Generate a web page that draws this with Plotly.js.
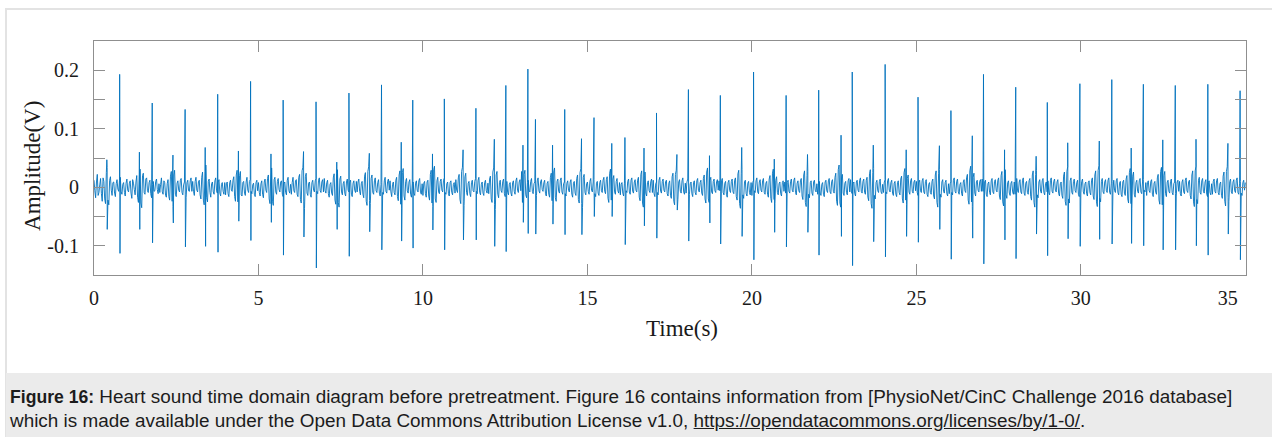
<!DOCTYPE html>
<html>
<head>
<meta charset="utf-8">
<script src="https://cdn.plot.ly/plotly-3.0.1.min.js"></script>
<style>
html,body{margin:0;padding:0;background:#fff;width:1272px;height:437px;overflow:hidden;}
#frame{position:absolute;left:5px;top:8px;width:1290px;height:440px;border-top:2px solid #e3e3e3;border-left:2px solid #e3e3e3;}
#chart{position:absolute;left:0;top:0;width:1272px;height:372px;}
#cap{position:absolute;left:6px;top:373px;width:1266px;height:64px;background:#ebebeb;font-family:"Liberation Sans",Arial,Helvetica,sans-serif;font-size:18.9px;color:#1c1c1c;line-height:24px;padding:12px 0 0 4px;box-sizing:border-box;white-space:nowrap;}
#cap b{font-size:17.6px;}
#cap a{color:#1c1c1c;text-decoration:underline;}
</style>
</head>
<body>
<div id="frame"></div>
<div id="chart"></div>
<div id="cap"><b>Figure 16:</b> Heart sound time domain diagram before pretreatment. Figure 16 contains information from [PhysioNet/CinC Challenge 2016 database]<br>which is made available under the Open Data Commons Attribution License v1.0, <a>https://opendatacommons.org/licenses/by/1-0/</a>.</div>
<script>
// Large (sharp) heart-sound spikes: time (s), positive peak (V), negative peak (V)
const s1Time = [0.78,1.77,2.77,3.76,4.76,5.75,6.75,7.75,8.74,9.69,10.65,11.61,12.52,13.19,13.42,14.31,15.20,16.14,17.10,18.07,19.04,20.05,21.04,22.03,23.05,24.05,25.05,26.05,27.04,28.02,28.98,29.97,30.94,31.90,32.87,33.86,34.84];
const s1Up   = [0.193,0.144,0.133,0.159,0.181,0.149,0.146,0.161,0.175,0.149,0.151,0.135,0.174,0.202,0.116,0.133,0.119,0.085,0.127,0.167,0.157,0.197,0.157,0.166,0.197,0.210,0.154,0.131,0.193,0.171,0.145,0.177,0.184,0.176,0.174,0.176,0.165];
const s1Down = [-0.113,-0.095,-0.102,-0.111,-0.091,-0.116,-0.138,-0.118,-0.107,-0.104,-0.107,-0.090,-0.110,-0.079,-0.080,-0.081,-0.050,-0.098,-0.087,-0.092,-0.097,-0.124,-0.102,-0.116,-0.134,-0.119,-0.094,-0.123,-0.131,-0.122,-0.117,-0.101,-0.097,-0.100,-0.107,-0.116,-0.124];

// Medium heart-sound bursts: time (s), positive peak (V), negative peak (V)
const s2Time = [0.39,1.38,2.40,3.38,4.39,5.38,6.37,7.38,8.37,9.34,10.29,11.22,12.17,13.04,13.94,14.82,15.74,16.72,17.72,18.71,19.69,20.68,21.69,22.71,23.69,24.69,25.70,26.70,27.68,28.64,29.60,30.56,31.53,32.49,33.50,34.47];
const s2Up   = [0.047,0.060,0.055,0.068,0.062,0.057,0.061,0.043,0.058,0.077,0.057,0.064,0.082,0.072,0.072,0.083,0.075,0.067,0.056,0.054,0.068,0.048,0.056,0.089,0.072,0.064,0.071,0.088,0.064,0.053,0.076,0.079,0.067,0.081,0.082,0.075];
const s2Down = [-0.072,-0.072,-0.061,-0.101,-0.058,-0.060,-0.085,-0.072,-0.076,-0.092,-0.073,-0.090,-0.101,-0.060,-0.063,-0.081,-0.050,-0.066,-0.039,-0.061,-0.084,-0.077,-0.077,-0.084,-0.093,-0.084,-0.072,-0.087,-0.090,-0.080,-0.088,-0.089,-0.096,-0.107,-0.100,-0.080];

// Background noise, in millivolts, one value every 0.05 s (one row per second)
const noiseStep = 0.05;
const noiseMv = [
 12,-18,22,-9,15,-24,10,-28,34,-30,18,-14,9,-16,13,-7,17,-12,8,-15,
 14,-8,11,-19,7,-13,20,-26,31,-35,24,-12,16,-9,12,-18,10,-6,14,-11,
 -9,16,-12,8,-17,13,-22,27,-33,29,-16,11,-8,15,-13,9,-18,12,-7,16,
 10,-14,17,-8,12,-20,26,-30,38,-25,14,-17,9,-12,16,-10,13,-15,8,-12,
 -13,9,-16,12,-7,18,-24,29,-32,27,-15,10,-14,17,-9,13,-11,7,-16,12,
 8,-15,11,-18,14,-9,21,-28,33,-31,17,-12,15,-8,11,-16,9,-13,17,-10,
 -12,17,-9,13,-16,22,-27,34,-36,24,-14,9,-17,12,-8,15,-11,16,-9,13,
 15,-10,12,-17,8,-14,23,-29,30,-34,19,-13,10,-15,14,-8,12,-16,11,-9,
 -8,14,-13,10,-18,25,-31,35,-28,21,-12,16,-9,13,-15,8,-12,17,-10,14,
 11,-16,9,-13,17,-23,28,-37,32,-22,15,-10,13,-17,9,-14,11,-8,15,-12,
 -14,10,-17,12,-22,29,-33,36,-26,17,-11,14,-8,16,-12,9,-15,11,-13,8,
 13,-9,22,-28,34,-31,24,-14,10,-16,12,-8,15,-11,17,-13,9,-14,12,-10,
 -11,19,-26,33,-38,27,-18,12,-9,14,-16,10,-13,8,-15,11,-12,16,-9,13,
 27,-34,29,-18,12,-8,15,-11,9,-14,16,-10,13,-7,12,-15,10,-17,24,-30,
 33,-24,14,-10,16,-12,9,-15,11,-8,13,-17,10,-14,21,-27,32,-35,22,-13,
 9,-12,15,-8,13,-16,10,-14,12,-9,17,-11,18,-26,31,-29,20,-12,15,-10,
 -13,8,-15,11,-9,14,-12,16,-10,13,-8,17,-23,28,-34,26,-15,11,-9,14,
 12,-16,9,-13,17,-10,14,-8,12,-15,11,-19,24,-30,29,-21,13,-10,16,-12,
 -10,14,-12,9,-16,11,-13,15,-8,12,-14,21,-27,33,-26,17,-11,14,-9,13,
 11,-8,15,-13,10,-17,12,-9,14,-11,16,-22,29,-36,30,-19,12,-15,10,-13,
 -14,12,-9,16,-11,13,-8,15,-12,10,-17,20,-26,31,-28,18,-13,9,-15,11,
 9,-15,12,-10,14,-8,16,-13,11,-9,15,-21,28,-33,27,-18,11,-14,12,-8,
 -12,10,-14,8,-16,12,-9,15,-11,13,-10,24,-31,38,-34,22,-14,10,-13,15,
 13,-11,9,-15,12,-8,16,-10,14,-12,17,-23,30,-36,32,-20,12,-9,14,-11,
 -9,13,-11,15,-8,12,-14,10,-16,11,-13,19,-27,32,-29,21,-12,15,-10,12,
 10,-14,12,-9,15,-11,13,-16,8,-12,14,-20,28,-34,30,-17,13,-10,12,-15,
 -11,9,-13,16,-10,14,-12,8,-15,13,-9,22,-29,36,-33,24,-15,12,-8,13,
 14,-10,12,-16,9,-13,15,-11,13,-8,16,-21,27,-32,30,-19,11,-14,10,-12,
 -12,15,-9,13,-11,16,-14,10,-12,15,-22,28,-34,29,-18,13,-10,15,-13,9,
 11,-13,16,-10,14,-8,13,-15,9,-19,26,-31,35,-27,16,-12,14,-9,12,-16,
 -10,14,-12,9,-15,11,-13,16,-21,28,-33,37,-25,15,-11,13,-9,16,-12,10,
 12,-9,15,-13,10,-16,12,-14,20,-27,32,-36,26,-17,12,-10,15,-11,13,-8,
 -14,11,-9,13,-16,10,-12,22,-29,34,-38,27,-16,12,-10,14,-13,9,-15,12,
 10,-15,13,-11,16,-9,12,-20,28,-33,36,-28,17,-12,15,-10,13,-16,11,-13,
 -12,14,-10,15,-13,9,-19,26,-32,35,-24,14,-11,13,-9,16,-12,10,-14,12,
 8
];
// Noise read half a step later (t = i*0.05 + 0.025 s), in millivolts
const noiseMvHalf = [
 -6,9,-14,4,-11,16,-20,25,-22,12,-5,8,-10,6,-3,11,-8,5,-9,7,
 -5,7,-10,13,-4,9,-17,22,-27,20,-9,14,-6,8,-11,5,-7,10,-4,6,
 5,-8,11,-14,6,-16,19,-24,21,-12,7,-5,12,-9,4,-13,8,-6,11,-7,
 -7,10,-5,9,-13,17,-22,27,-18,10,-9,6,-8,11,-6,9,-10,5,-7,8,
 6,-11,8,-5,12,-16,21,-25,20,-13,8,-10,9,-5,10,-7,4,-12,8,-6,
 -9,6,-12,9,-5,15,-20,26,-24,13,-8,10,-4,9,-12,6,-9,12,-6,5,
 8,-6,11,-12,17,-21,28,-25,18,-10,7,-12,8,-5,11,-7,12,-6,9,-8,
 -6,8,-11,5,-10,16,-22,24,-26,14,-8,6,-11,9,-5,8,-12,7,-5,10,
 9,-7,6,-12,19,-24,27,-23,15,-9,11,-6,8,-10,5,-9,11,-7,10,-5,
 -8,5,-9,12,-16,21,-29,25,-15,10,-6,9,-12,6,-10,7,-5,11,-8,6,
 7,-11,9,-15,22,-27,30,-20,11,-8,10,-5,12,-9,6,-11,8,-9,5,-10,
 -5,16,-21,27,-25,18,-9,7,-11,8,-6,10,-7,12,-9,5,-10,8,-6,7,
 14,-20,26,-30,21,-12,8,-6,10,-11,7,-9,5,-10,8,-7,11,-5,9,-6,
 -26,22,-13,8,-5,10,-7,6,-10,11,-6,9,-4,8,-11,7,-12,17,-23,26,
 -18,10,-7,12,-8,6,-11,7,-5,9,-12,7,-10,15,-21,25,-28,17,-9,6,
 -7,10,-5,9,-11,7,-10,8,-6,12,-7,13,-19,24,-22,14,-8,10,-6,8,
 5,-10,7,-6,10,-8,12,-7,9,-5,12,-17,22,-27,20,-10,8,-6,10,-9,
 -11,6,-9,12,-7,10,-5,9,-11,7,-14,18,-24,22,-15,9,-7,11,-8,7,
 9,-8,6,-11,8,-9,11,-5,8,-10,15,-20,26,-20,12,-8,10,-6,9,-5,
 -6,11,-9,7,-12,8,-6,10,-8,12,-16,23,-28,23,-13,9,-11,7,-9,8,
 8,-6,11,-8,9,-5,11,-9,7,-12,14,-19,24,-21,12,-9,6,-11,8,-7,
 -10,8,-7,10,-5,12,-9,7,-6,11,-15,21,-26,20,-12,8,-10,9,-5,6,
 7,-10,5,-12,9,-6,11,-8,10,-7,17,-24,30,-27,16,-10,7,-9,11,-8,
 -8,6,-11,9,-5,12,-7,10,-9,12,-17,23,-28,25,-14,8,-6,10,-8,5,
 9,-8,11,-5,8,-10,7,-12,8,-9,14,-20,25,-22,15,-8,11,-7,9,-6,
 -9,8,-6,11,-8,10,-12,5,-9,10,-15,21,-26,23,-12,9,-7,8,-11,6,
 6,-9,12,-7,10,-8,5,-11,9,-6,16,-22,28,-25,17,-10,9,-5,10,-7,
 -7,9,-12,6,-9,11,-8,10,-5,12,-15,20,-25,22,-13,8,-10,7,-8,9,
 10,-6,9,-8,12,-10,7,-9,11,-16,21,-26,22,-13,9,-7,11,-9,6,-8,
 -9,12,-7,10,-5,9,-11,6,-14,19,-24,27,-20,11,-9,10,-6,8,-12,7,
 10,-8,6,-11,8,-9,12,-15,21,-25,29,-19,10,-8,9,-6,12,-9,7,-6,
 -6,11,-9,7,-12,9,-10,14,-20,25,-28,19,-12,8,-7,11,-8,9,-5,8,
 8,-6,10,-12,7,-9,16,-22,27,-30,20,-11,9,-7,10,-9,6,-11,9,-7,
 -11,9,-8,12,-6,9,-14,21,-25,28,-21,12,-9,11,-7,9,-12,8,-9,6,
 10,-7,11,-9,6,-14,19,-24,27,-18,10,-8,9,-6,12,-9,7,-10,8,-5
];

// Axis ticks
const xTickVals = [0,5,10,15,20,25,30,35];
const xTickText = ['0','5','10','15','20','25','30','35\u00a0\u00a0\u00a0\u00a0\u00a0\u00a0\u00a0'];
const yTickVals = [-0.15,-0.1,-0.05,0,0.05,0.1,0.15,0.2,0.25];
const yTickText = ['','-0.1','','0','','0.1','','0.2',''];

// Assemble the waveform from the arrays above
const pts = [];
noiseMv.forEach((v,i)=>pts.push([i*noiseStep, v/1000]));
noiseMvHalf.forEach((v,i)=>pts.push([(i+0.5)*noiseStep, v/1000]));
s1Time.forEach((t,i)=>{pts.push([t, s1Up[i]]); pts.push([t+0.01, s1Down[i]]);});
s2Time.forEach((t,i)=>{pts.push([t, s2Up[i]]); pts.push([t+0.012, s2Down[i]]);});
pts.sort((a,b)=>a[0]-b[0]);

const serif = 'Liberation Serif, "Times New Roman", Times, serif';
const axisGray = '#8f8f8f';
const textCol = '#1a1a1a';

const trace = {
  x: pts.map(p=>p[0]), y: pts.map(p=>p[1]),
  type:'scatter', mode:'lines',
  line:{color:'#0072BD', width:0.9, simplify:false},
  hoverinfo:'skip'
};

const layout = {
  width:1272, height:372,
  margin:{l:94, r:26, t:41, b:97},
  paper_bgcolor:'rgba(0,0,0,0)', plot_bgcolor:'#ffffff',
  showlegend:false,
  xaxis:{
    range:[0,35.02], tickmode:'array', tickvals:xTickVals, ticktext:xTickText,
    ticks:'inside', ticklen:11, tickwidth:1, tickcolor:axisGray,
    ticklabelstandoff:5, ticklabeloverflow:'allow',
    showline:true, linecolor:axisGray, linewidth:1, mirror:'ticks',
    showgrid:false, zeroline:false,
    tickfont:{family:serif, size:20, color:textCol}
  },
  yaxis:{
    range:[-0.15,0.25], tickmode:'array', tickvals:yTickVals, ticktext:yTickText,
    ticks:'inside', ticklen:11, tickwidth:1, tickcolor:axisGray,
    ticklabelstandoff:10,
    showline:true, linecolor:axisGray, linewidth:1, mirror:'ticks',
    showgrid:false, zeroline:false,
    tickfont:{family:serif, size:20, color:textCol}
  },
  annotations:[
    {
      text:'Amplitude(V)', textangle:-90, showarrow:false,
      xref:'paper', yref:'paper', x:0, xanchor:'center', xshift:-61,
      y:0.466, yanchor:'middle',
      font:{family:serif, size:23, color:textCol}
    },
    {
      text:'Time(s)', showarrow:false,
      xref:'paper', yref:'paper', x:0.5, xanchor:'center', xshift:12,
      y:0, yanchor:'middle', yshift:-53,
      font:{family:serif, size:23, color:textCol}
    }
  ]
};

Plotly.newPlot('chart',[trace],layout,{staticPlot:true, displayModeBar:false});
</script>
</body>
</html>
